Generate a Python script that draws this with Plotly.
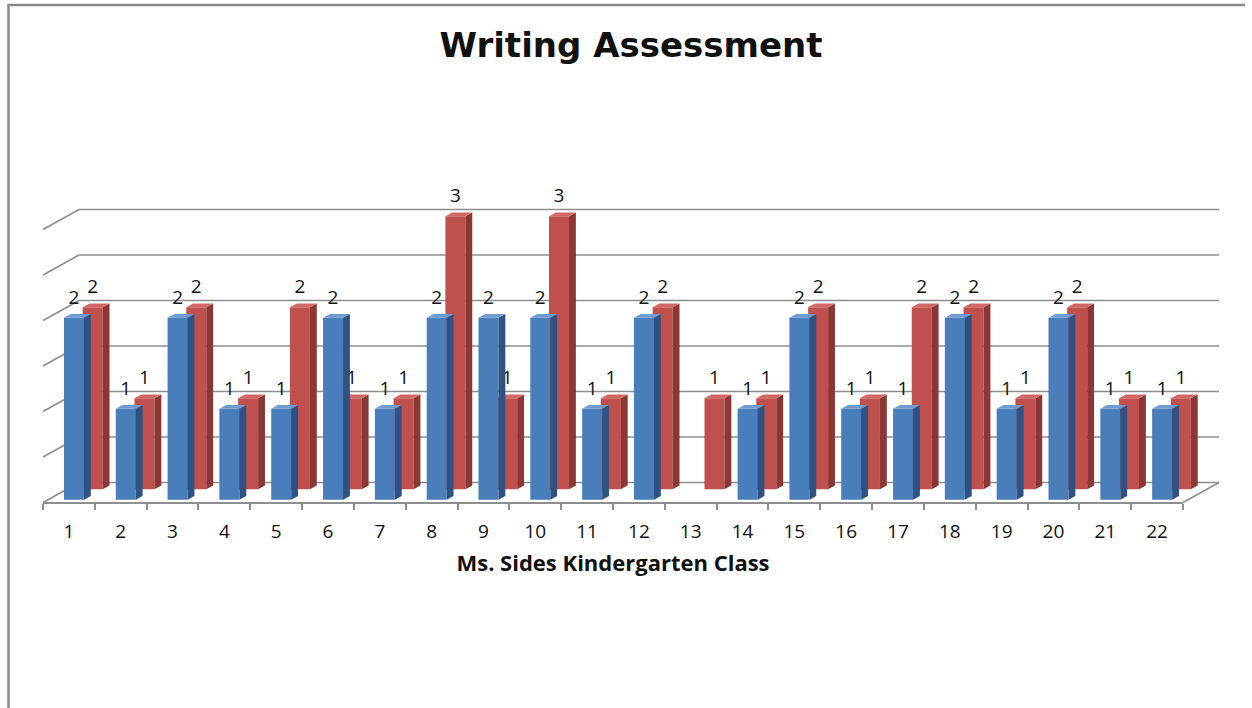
import plotly.graph_objects as go

# ---- data -------------------------------------------------------------
students = [str(i) for i in range(1, 23)]
first_scores = [2, 1, 2, 1, 1, 2, 1, 2, 2, 2, 1, 2, None, 1, 2, 1, 1, 2, 1, 2, 1, 1]
second_scores = [2, 1, 2, 1, 2, 1, 1, 3, 1, 3, 1, 2, 1, 1, 2, 1, 2, 2, 1, 2, 1, 1]
grid_values = [0, 0.5, 1, 1.5, 2, 2.5, 3]

# ---- canvas / pseudo-3D geometry ---------------------------------------
W, H = 1252, 708
FLOOR_LEFT, FLOOR_RIGHT = 43, 1183      # front edge of the floor (px)
FLOOR_Y = 502.5                         # front edge of the floor (px)
UNIT = 91.0                             # px per score point
CAT = (FLOOR_RIGHT - FLOOR_LEFT) / len(students)
DX = 36 / CAT                           # full depth offset, category units
DY = 20 / UNIT                          # full depth offset, value units
HALF_W = 10 / CAT                       # half bar width
THICK = 0.19                            # bar depth (fraction of full depth)
LABEL_GAP = 15 / UNIT

x_range = [-0.5 - FLOOR_LEFT / CAT, -0.5 + (W - FLOOR_LEFT) / CAT]
y_range = [-(H - FLOOR_Y) / UNIT, FLOOR_Y / UNIT]

GRID_COLOR = "#8e8e8e"
TEXT_COLOR = "#111111"

series = [
    # values, depth of front face, front, side, top colours
    (second_scores, 0.66, "#c0504d", "#8a3735", "#d26865"),
    (first_scores, 0.14, "#4a7ebb", "#2d5283", "#6f9bd3"),
]

fig = go.Figure()

for values, depth, c_front, c_side, c_top in series:
    xs = [i + depth * DX for i in range(len(values))]
    base = depth * DY
    fig.add_trace(go.Bar(
        x=xs, y=values, base=base, width=2 * HALF_W,
        marker=dict(color=c_front, line=dict(width=0)),
        hoverinfo="skip", showlegend=False,
    ))

    side_x, side_y, top_x, top_y = [], [], [], []
    lab_x, lab_y, lab_t = [], [], []
    tdx, tdy = THICK * DX, THICK * DY
    for x, v in zip(xs, values):
        if v is None:
            continue
        r, l, top = x + HALF_W, x - HALF_W, base + v
        side_x += [r, r + tdx, r + tdx, r, None]
        side_y += [base, base + tdy, top + tdy, top, None]
        top_x += [l, r, r + tdx, l + tdx, None]
        top_y += [top, top, top + tdy, top + tdy, None]
        lab_x.append(x)
        lab_y.append(top + tdy + LABEL_GAP)
        lab_t.append(str(v))
    fig.add_trace(go.Scatter(
        x=side_x, y=side_y, mode="lines", fill="toself", fillcolor=c_side,
        line=dict(width=0, color=c_side), hoverinfo="skip", showlegend=False,
    ))
    fig.add_trace(go.Scatter(
        x=top_x, y=top_y, mode="lines", fill="toself", fillcolor=c_top,
        line=dict(width=0, color=c_top), hoverinfo="skip", showlegend=False,
    ))
    fig.add_trace(go.Scatter(
        x=lab_x, y=lab_y, mode="text", text=lab_t, textposition="middle center",
        textfont=dict(family="Open Sans", size=19, color=TEXT_COLOR),
        hoverinfo="skip", showlegend=False, cliponaxis=False,
    ))

# category axis carrier (registers the student labels on x2)
fig.add_trace(go.Scatter(
    x=students, y=[y_range[0] - 5] * len(students), xaxis="x2", yaxis="y",
    mode="markers", marker=dict(opacity=0), hoverinfo="skip", showlegend=False,
))

# ---- walls and floor --------------------------------------------------
shapes = []
last = len(students) - 0.5
for g in grid_values:
    # back wall
    shapes.append(dict(type="line", xref="x", yref="y", layer="below",
                       x0=-0.5 + DX, y0=g + DY, x1=last + DX, y1=g + DY,
                       line=dict(color=GRID_COLOR, width=1.6)))
    # side wall
    shapes.append(dict(type="line", xref="x", yref="y", layer="below",
                       x0=-0.5, y0=g, x1=-0.5 + DX, y1=g + DY,
                       line=dict(color=GRID_COLOR, width=1.6)))
# right edge of the floor
shapes.append(dict(type="line", xref="x", yref="y", layer="below",
                   x0=last, y0=0, x1=last + DX, y1=DY,
                   line=dict(color=GRID_COLOR, width=1.6)))

# outer frame
FRAME = "#8a8a8a"
shapes.append(dict(type="line", xref="paper", yref="paper",
                   x0=8.5 / W, y0=0, x1=8.5 / W, y1=1 - 4.5 / H,
                   line=dict(color=FRAME, width=2.5)))
shapes.append(dict(type="line", xref="paper", yref="paper",
                   x0=7.5 / W, y0=1 - 5 / H, x1=1245 / W, y1=1 - 5 / H,
                   line=dict(color=FRAME, width=2.5)))

fig.update_layout(
    width=W, height=H,
    margin=dict(l=0, r=0, t=0, b=0),
    paper_bgcolor="white", plot_bgcolor="rgba(0,0,0,0)",
    barmode="overlay",
    showlegend=False,
    shapes=shapes,
    title=dict(
        text="Writing Assessment",
        font=dict(family="DejaVu Sans", size=34, color="#111111", weight="bold"),
        x=631 / W, xanchor="center", xref="container",
        y=1 - 45 / H, yanchor="middle", yref="container",
    ),
    xaxis=dict(range=x_range, visible=False, fixedrange=True),
    yaxis=dict(range=y_range, visible=False, fixedrange=True),
    xaxis2=dict(
        type="category",
        categoryorder="array", categoryarray=students,
        range=[-0.5, len(students) - 0.5],
        domain=[FLOOR_LEFT / W, FLOOR_RIGHT / W],
        anchor="free", position=1 - FLOOR_Y / H,
        showline=True, linecolor=GRID_COLOR, linewidth=2,
        ticks="outside", tickson="boundaries", ticklen=6,
        tickcolor=GRID_COLOR, tickwidth=1.5,
        showgrid=False, zeroline=False,
        tickfont=dict(family="Open Sans", size=19, color=TEXT_COLOR),
        ticklabelstandoff=12,
        title=dict(
            text="Ms. Sides Kindergarten Class",
            font=dict(family="Open Sans", size=22, color="#111111", weight="bold"),
            standoff=11,
        ),
        fixedrange=True,
    ),
)

fig.write_html("out.html")
